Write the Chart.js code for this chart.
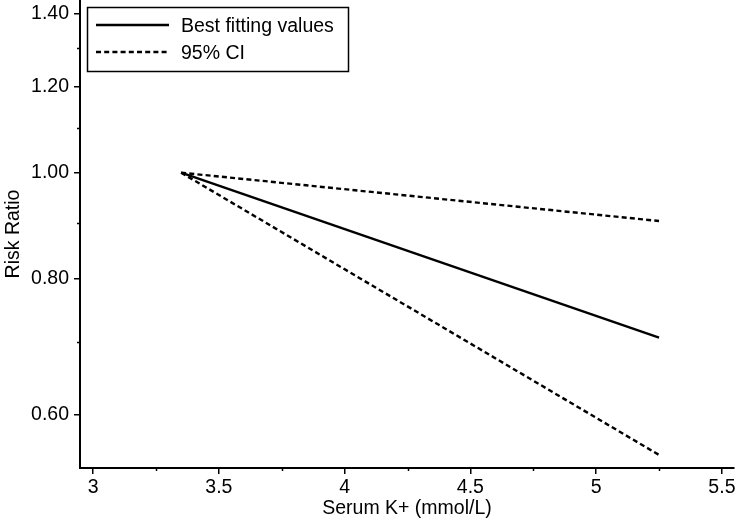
<!DOCTYPE html>
<html>
<head>
<meta charset="utf-8">
<script src="https://cdn.jsdelivr.net/npm/chart.js@4.4.1/dist/chart.umd.min.js"></script>
<style>
html,body{margin:0;padding:0;background:#fff;}
#wrap{width:736px;height:521px;position:relative;}
</style>
</head>
<body>
<div id="wrap"><canvas id="c" width="736" height="521"></canvas></div>
<script>
const xValues = [3.35, 5.25];
const bestFit = [1.0, 0.706];
const upperCI = [1.0, 0.903];
const lowerCI = [1.0, 0.551];
const xTicks = [3, 3.5, 4, 4.5, 5, 5.5];
const xMinorTicks = [3.25, 3.75, 4.25, 4.75, 5.25];
const yTicks = [0.6, 0.8, 1.0, 1.2, 1.4];
const yMinorTicks = [0.7, 0.9, 1.1, 1.3];
const legendLabels = ['Best fitting values', '95% CI'];

const FONT = '"Liberation Sans", Arial, Helvetica, sans-serif';
const FS = 19.5;

function pts(ys){ return xValues.map((x,i)=>({x:x,y:ys[i]})); }

const minorTicksPlugin = {
  id:'minorTicks',
  afterDraw(chart){
    const ctx = chart.ctx;
    const xs = chart.scales.x, ys = chart.scales.y;
    ctx.save();
    ctx.strokeStyle = '#000';
    ctx.lineWidth = 1.5;
    xMinorTicks.forEach(v=>{
      const px = Math.round(xs.getPixelForValue(v))+0.5;
      ctx.beginPath(); ctx.moveTo(px, xs.top); ctx.lineTo(px, xs.top+3); ctx.stroke();
    });
    yMinorTicks.forEach(v=>{
      const py = Math.round(ys.getPixelForValue(v))+0.5;
      ctx.beginPath(); ctx.moveTo(ys.right, py); ctx.lineTo(ys.right-3, py); ctx.stroke();
    });
    ctx.restore();
  }
};

const legendPlugin = {
  id:'boxLegend',
  afterDraw(chart){
    const ctx = chart.ctx;
    const a = chart.chartArea;
    const left = a.left + 7, top = a.top + 7, w = 261, h = 64;
    ctx.save();
    ctx.fillStyle = '#fff';
    ctx.fillRect(left, top, w, h);
    ctx.strokeStyle = '#000';
    ctx.lineWidth = 1.5;
    ctx.strokeRect(left+0.5, top+0.5, w, h);
    const rows = [top+18, top+45];
    const dashes = [[], [5,3.2]];
    rows.forEach((y,i)=>{
      ctx.setLineDash(dashes[i]);
      ctx.lineWidth = 2.4;
      ctx.beginPath(); ctx.moveTo(left+9, y); ctx.lineTo(left+82, y); ctx.stroke();
      ctx.setLineDash([]);
      ctx.fillStyle = '#000';
      ctx.font = FS + 'px ' + FONT;
      ctx.textBaseline = 'middle';
      ctx.textAlign = 'left';
      ctx.fillText(legendLabels[i], left+94, y+2);
    });
    ctx.restore();
  }
};

new Chart(document.getElementById('c'), {
  type:'line',
  data:{
    datasets:[
      {label:legendLabels[0], data:pts(bestFit), borderColor:'#000', borderWidth:2.4, pointRadius:0, fill:false, tension:0},
      {label:legendLabels[1], data:pts(upperCI), borderColor:'#000', borderWidth:2.4, borderDash:[5,3.2], pointRadius:0, fill:false, tension:0},
      {label:legendLabels[1], data:pts(lowerCI), borderColor:'#000', borderWidth:2.4, borderDash:[5,3.2], pointRadius:0, fill:false, tension:0}
    ]
  },
  options:{
    responsive:false,
    animation:false,
    layout:{padding:{top:0, right:2, bottom:0, left:0}},
    plugins:{legend:{display:false}, tooltip:{enabled:false}},
    scales:{
      x:{
        type:'linear', min:2.948, max:5.548,
        afterBuildTicks(s){ s.ticks = xTicks.map(v=>({value:v})); },
        afterFit(s){ s.height = 53; s.paddingLeft = 0; s.paddingRight = 0; },
        border:{display:true, color:'#000', width:2},
        grid:{display:true, drawOnChartArea:false, drawTicks:true, tickLength:6, color:'#000', lineWidth:1.5},
        ticks:{color:'#000', font:{family:FONT, size:FS}, padding:2, maxRotation:0, autoSkip:false,
               callback:(v)=>String(v)},
        title:{display:true, text:'Serum K+ (mmol/L)', color:'#000', font:{family:FONT, size:FS}, padding:{top:0,bottom:1}}
      },
      y:{
        type:'logarithmic', min:0.536, max:1.44,
        afterBuildTicks(s){ s.ticks = yTicks.map(v=>({value:v})); },
        afterFit(s){ s.width = 80; s.paddingTop = 0; s.paddingBottom = 0; },
        border:{display:true, color:'#000', width:2},
        grid:{display:true, drawOnChartArea:false, drawTicks:true, tickLength:6, color:'#000', lineWidth:1.5},
        ticks:{color:'#000', font:{family:FONT, size:FS}, padding:5, autoSkip:false,
               callback:(v)=>Number(v).toFixed(2)},
        title:{display:true, text:'Risk Ratio', color:'#000', font:{family:FONT, size:FS}, padding:{top:2,bottom:0}}
      }
    }
  },
  plugins:[minorTicksPlugin, legendPlugin]
});
</script>
</body>
</html>
